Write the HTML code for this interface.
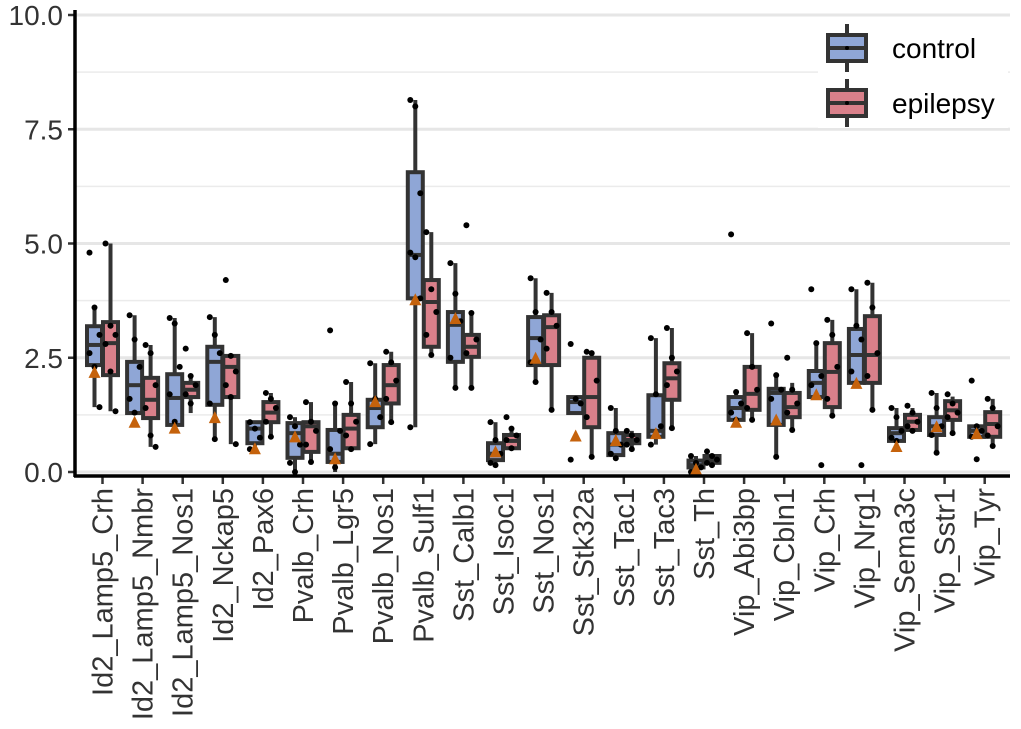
<!DOCTYPE html>
<html><head><meta charset="utf-8"><style>
body{margin:0;background:#fff}
svg{display:block;font-family:"Liberation Sans",sans-serif}
</style></head><body>
<svg id="chart" width="1021" height="729" viewBox="0 0 1021 729"></svg>
<script>
const categories=["Id2_Lamp5_Crh","Id2_Lamp5_Nmbr","Id2_Lamp5_Nos1","Id2_Nckap5","Id2_Pax6","Pvalb_Crh","Pvalb_Lgr5","Pvalb_Nos1","Pvalb_Sulf1","Sst_Calb1","Sst_Isoc1","Sst_Nos1","Sst_Stk32a","Sst_Tac1","Sst_Tac3","Sst_Th","Vip_Abi3bp","Vip_Cbln1","Vip_Crh","Vip_Nrg1","Vip_Sema3c","Vip_Sstr1","Vip_Tyr"];
// [lower whisker, q1, median, q3, upper whisker]
const controlStats=[[1.42,2.34,2.78,3.19,3.63],[1.29,1.29,1.9,2.41,3.43],[1.03,1.03,1.62,2.14,3.37],[0.72,1.47,2.41,2.74,3.39],[0.5,0.63,0.95,1.09,1.09],[0.0,0.31,0.85,1.07,1.2],[0.0,0.22,0.4,0.92,1.5],[0.61,0.98,1.4,1.58,2.38],[0.98,3.8,4.75,6.56,8.14],[1.84,2.41,3.22,3.5,4.57],[0.15,0.26,0.4,0.63,1.09],[1.97,2.34,2.93,3.39,4.24],[1.29,1.29,1.53,1.64,1.64],[0.3,0.37,0.6,0.85,1.4],[0.6,0.77,0.9,1.68,2.93],[0.0,0.1,0.15,0.25,0.35],[1.14,1.14,1.4,1.64,1.75],[0.33,1.03,1.73,1.82,2.12],[1.64,1.64,1.95,2.21,2.82],[1.95,1.95,2.56,3.13,4.0],[0.68,0.68,0.85,0.96,1.4],[0.42,0.81,1.0,1.2,1.73],[0.77,0.77,0.9,1.0,1.0]];
const epilepsyStats=[[1.33,2.12,2.82,3.28,5.0],[0.55,1.18,1.58,2.06,2.78],[1.29,1.64,1.8,1.95,2.12],[0.61,1.64,2.3,2.54,2.54],[0.77,1.09,1.3,1.53,1.73],[0.22,0.44,1.0,1.09,1.53],[0.5,0.52,0.95,1.25,1.97],[1.09,1.5,1.9,2.34,2.63],[2.56,2.74,3.72,4.2,5.25],[1.84,2.52,2.74,3.0,3.48],[0.52,0.52,0.68,0.81,0.95],[1.36,2.34,3.17,3.43,3.92],[0.33,0.98,1.64,2.5,2.63],[0.5,0.63,0.7,0.81,0.9],[0.96,1.58,2.05,2.38,3.15],[0.15,0.2,0.27,0.35,0.4],[1.14,1.36,1.71,2.3,3.04],[0.92,1.2,1.42,1.73,1.95],[1.23,1.42,2.19,2.82,3.33],[1.36,1.95,2.56,3.41,4.14],[0.9,0.92,1.1,1.25,1.4],[0.85,1.14,1.35,1.55,1.65],[0.57,0.77,1.05,1.31,1.6]];
const meanValues=[2.19,1.1,0.97,1.2,0.52,0.78,0.3,1.55,3.78,3.37,0.45,2.5,0.8,0.7,0.85,0.07,1.1,1.15,1.7,1.95,0.57,1.0,0.85];
const controlPoints=[[4.8,3.6,3.0,2.6,2.3,1.42],[3.43,2.9,2.3,1.6,1.3],[3.37,3.25,2.3,1.7,1.1],[3.39,3.0,2.6,1.5,0.72],[1.09,0.95,0.75,0.5],[1.2,1.0,0.6,0.2,0.0],[3.1,1.5,0.9,0.5,0.1],[2.38,1.6,1.2,0.61],[8.14,8.0,6.1,4.8,4.7,3.8,0.98],[4.57,3.9,3.3,2.5,1.84],[1.09,0.7,0.4,0.2,0.15],[4.24,3.5,2.9,2.4,1.97],[2.8,1.6,1.5,0.27],[1.4,0.9,0.6,0.4,0.3],[2.93,1.7,1.0,0.6],[0.35,0.2,0.1,0.0],[5.2,1.75,1.5,1.3,1.14],[3.25,2.12,1.8,1.6,0.33],[4.0,2.82,2.1,1.9,1.64,0.15],[4.0,3.2,2.9,2.2,1.95,0.15],[1.4,1.2,0.9,0.75,0.68],[1.73,1.4,1.0,0.81,0.42],[2.0,1.0,0.9,0.77,0.28]];
const epilepsyPoints=[[5.0,3.2,3.0,2.8,2.2,1.33],[2.78,2.6,1.9,1.4,0.8,0.55],[2.7,2.1,1.9,1.7,1.5],[4.2,2.54,2.2,1.9,1.64,0.61],[1.73,1.6,1.4,1.1,0.77],[1.53,1.1,0.9,0.6,0.22],[1.97,1.5,1.1,0.8,0.5],[2.63,2.4,2.0,1.6,1.09],[5.25,4.0,3.5,3.0,2.56],[5.4,3.48,2.9,2.6,1.84],[1.2,0.95,0.8,0.7,0.52],[3.92,3.5,3.2,2.7,1.36],[2.63,2.6,2.0,1.2,0.33],[0.9,0.8,0.7,0.6,0.5],[3.15,2.5,2.2,1.9,0.96],[0.45,0.35,0.27,0.2,0.15],[3.04,2.3,1.8,1.4,1.14],[2.5,1.8,1.5,1.3,0.92],[3.33,3.0,2.3,1.6,1.23],[4.14,3.6,2.6,2.1,1.36],[1.45,1.3,1.1,1.0,0.9],[1.7,1.5,1.3,1.2,0.85],[1.6,1.4,1.0,0.8,0.57]];
const yTicks=[0,2.5,5,7.5,10];
const yTickLabels=["0.0","2.5","5.0","7.5","10.0"];
const yMinor=[1.25,3.75,6.25,8.75];

const NS="http://www.w3.org/2000/svg";
const svg=document.getElementById("chart");
const X0=102.5, DX=40.1, L=75, R=1010;
const y=v=>472-v*45.7;
const x=i=>X0+i*DX;
function mk(tag,attrs,parent){const e=document.createElementNS(NS,tag);for(const k in attrs)e.setAttribute(k,attrs[k]);(parent||svg).appendChild(e);return e;}

yMinor.forEach(v=>{const g=mk("line",{x1:L,x2:R,y1:y(v),y2:y(v),stroke:"#ebebeb","stroke-width":1.5});

});
yTicks.forEach((v,i)=>{const g=mk("line",{x1:L,x2:R,y1:y(v),y2:y(v),stroke:"#e6e6e6","stroke-width":3});


const t=mk("text",{x:63,y:y(v)+10,"text-anchor":"end","font-size":28,fill:"#333"});t.textContent=yTickLabels[i];


const tk=mk("line",{x1:68,x2:L,y1:y(v),y2:y(v),stroke:"#333","stroke-width":2.5});

});

function drawBox(cx,s,fill,name){
  const g=mk("g",{});
  
  
  const w=15;
  mk("line",{x1:cx,x2:cx,y1:y(s[4]),y2:y(s[0]),stroke:"#333","stroke-width":4},g);
  mk("rect",{x:cx-w/2,y:y(s[3]),width:w,height:Math.max(1,y(s[1])-y(s[3])),fill:fill,stroke:"#333","stroke-width":4},g);
  mk("line",{x1:cx-w/2,x2:cx+w/2,y1:y(s[2]),y2:y(s[2]),stroke:"#333","stroke-width":4},g);
}
function drawPts(cx,pts,name){pts.forEach((v,j)=>{const c=mk("circle",{cx:cx+((j%3)-1)*5,cy:y(v),r:3,fill:"#000"});

});}

categories.forEach((c,i)=>{
  const cx=x(i);
  drawBox(cx-8,controlStats[i],"#8fa6d6","box-control-"+c);
  drawBox(cx+8,epilepsyStats[i],"#d9808a","box-epilepsy-"+c);
  drawPts(cx-8,controlPoints[i],"point-control");
  drawPts(cx+8,epilepsyPoints[i],"point-epilepsy");
  const ty=y(meanValues[i]);
  const tri=mk("polygon",{points:`${cx-14},${ty+6} ${cx-2},${ty+6} ${cx-8},${ty-6}`,fill:"#c5620c"});
  
  
  const tk=mk("line",{x1:cx,x2:cx,y1:476,y2:484,stroke:"#333","stroke-width":2.5});
  
  
  const t=mk("text",{x:0,y:0,transform:`translate(${cx+10},488) rotate(-90)`,"text-anchor":"end","font-size":29,fill:"#333"});
  t.textContent=c;
  
  
});
const ax=mk("line",{x1:L,x2:L,y1:10,y2:477,stroke:"#000","stroke-width":3.5});


const bx=mk("line",{x1:L-1,x2:R,y1:476,y2:476,stroke:"#000","stroke-width":3.5});



// legend
const lg=mk("g",{});


mk("rect",{x:818,y:20,width:190,height:108,fill:"#fff"},lg);
[["control","#8fa6d6",48],["epilepsy","#d9808a",103]].forEach(([n,f,cy])=>{
  const e=mk("g",{},lg);
  
  
  mk("line",{x1:847,x2:847,y1:cy-24,y2:cy+24,stroke:"#333","stroke-width":4},e);
  mk("rect",{x:828,y:cy-13,width:38,height:26,fill:f,stroke:"#333","stroke-width":4},e);
  mk("line",{x1:828,x2:866,y1:cy,y2:cy,stroke:"#333","stroke-width":4},e);
  mk("circle",{cx:847,cy:cy,r:2,fill:"#000"},e);
  const t=mk("text",{x:892,y:cy+10,"font-size":28,fill:"#000"},e);t.textContent=n;
});
</script>
</body></html>
